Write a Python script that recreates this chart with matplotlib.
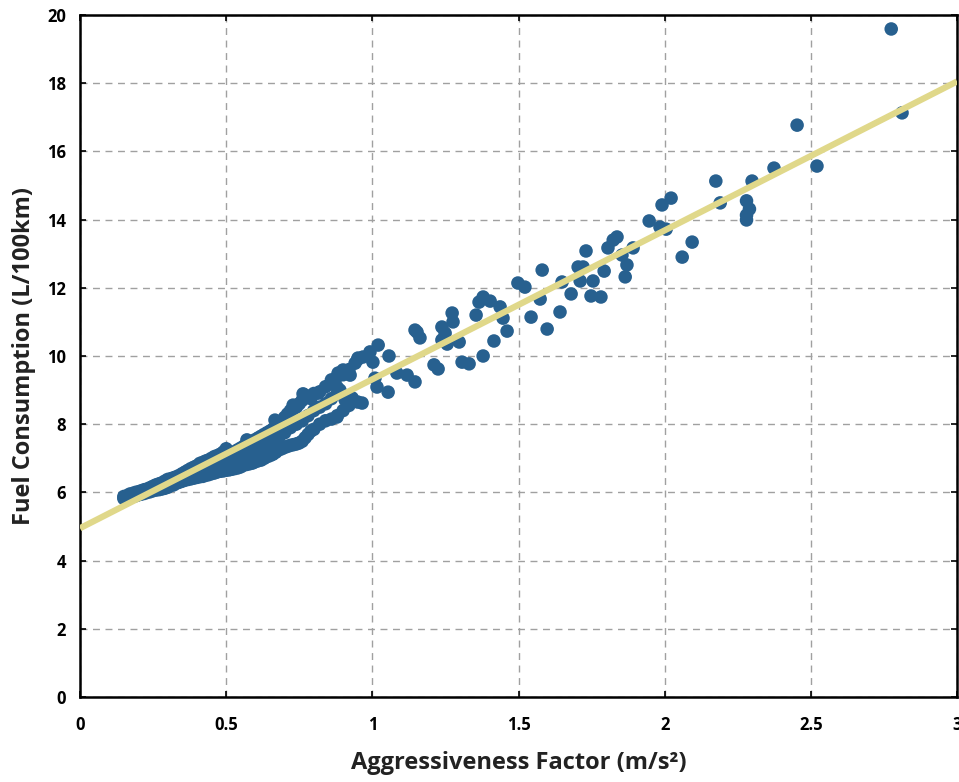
import matplotlib
matplotlib.use("Agg")
import matplotlib.pyplot as plt

dense_x = [0.15, 0.15, 0.16, 0.16, 0.17, 0.17, 0.18, 0.18, 0.19, 0.19, 0.20, 0.20,
           0.21, 0.21, 0.22, 0.22, 0.23, 0.23, 0.24, 0.24, 0.25, 0.25, 0.26, 0.26,
           0.27, 0.27, 0.28, 0.28, 0.29, 0.29, 0.30, 0.30, 0.31, 0.31, 0.32, 0.32,
           0.33, 0.33, 0.34, 0.34, 0.35, 0.35, 0.36, 0.36, 0.37, 0.37, 0.38, 0.38,
           0.39, 0.39, 0.40, 0.40, 0.40, 0.41, 0.41, 0.42, 0.42, 0.42, 0.43, 0.43,
           0.44, 0.44, 0.44, 0.45, 0.45, 0.46, 0.46, 0.46, 0.47, 0.47, 0.48, 0.48,
           0.48, 0.49, 0.49, 0.50, 0.50, 0.50, 0.51, 0.51, 0.52, 0.52, 0.52, 0.53,
           0.53, 0.54, 0.54, 0.54, 0.55, 0.55, 0.56, 0.56, 0.56, 0.57, 0.57, 0.58,
           0.58, 0.58, 0.59, 0.59, 0.60, 0.60, 0.60, 0.61, 0.61, 0.62, 0.62, 0.62,
           0.63, 0.63, 0.64, 0.64, 0.64, 0.65, 0.65, 0.66, 0.66, 0.66, 0.67, 0.67,
           0.68, 0.68, 0.68, 0.69, 0.69, 0.70, 0.70, 0.70, 0.71, 0.71, 0.72, 0.72,
           0.72, 0.73, 0.73, 0.74, 0.74, 0.74, 0.75, 0.75, 0.76, 0.76, 0.76, 0.77,
           0.77, 0.78, 0.78, 0.78, 0.79, 0.79, 0.80, 0.80, 0.80, 0.82, 0.82, 0.82,
           0.84, 0.84, 0.84, 0.86, 0.86, 0.86, 0.88, 0.88, 0.88, 0.90, 0.90, 0.92,
           0.92, 0.95, 0.95]
dense_y = [5.82, 5.88, 5.85, 5.90, 5.87, 5.95, 5.88, 5.97, 5.90, 6.00, 5.93, 6.02,
           5.95, 6.05, 5.97, 6.08, 6.00, 6.10, 6.02, 6.14, 6.05, 6.18, 6.07, 6.22,
           6.08, 6.25, 6.10, 6.28, 6.12, 6.33, 6.15, 6.38, 6.20, 6.40, 6.22, 6.43,
           6.27, 6.46, 6.30, 6.50, 6.33, 6.55, 6.36, 6.60, 6.38, 6.65, 6.40, 6.70,
           6.42, 6.74, 6.44, 6.78, 6.60, 6.46, 6.85, 6.47, 6.88, 6.68, 6.50, 6.92,
           6.52, 6.95, 6.75, 6.55, 7.00, 6.57, 7.05, 6.80, 6.60, 7.08, 6.62, 7.12,
           6.88, 6.63, 7.18, 6.65, 7.28, 6.95, 6.66, 7.10, 6.68, 7.15, 6.90, 6.70,
           7.20, 6.72, 7.25, 7.00, 6.75, 7.30, 6.80, 7.35, 7.05, 6.82, 7.42, 6.84,
           7.48, 7.15, 6.86, 7.50, 6.90, 7.55, 7.25, 6.93, 7.60, 6.95, 7.65, 7.30,
           7.00, 7.70, 7.05, 7.75, 7.40, 7.08, 7.80, 7.12, 7.85, 7.50, 7.18, 7.90,
           7.25, 7.95, 7.60, 7.28, 8.00, 7.32, 8.20, 7.75, 7.35, 8.30, 7.38, 8.40,
           7.90, 7.40, 8.45, 7.42, 8.50, 8.00, 7.45, 8.60, 7.50, 8.70, 8.10, 7.60,
           8.85, 7.70, 8.80, 8.25, 7.80, 8.75, 7.85, 8.90, 8.40, 8.00, 8.95, 8.50,
           8.10, 9.10, 8.60, 8.15, 9.30, 8.75, 8.25, 9.40, 8.90, 8.40, 9.45, 8.55,
           9.60, 8.65, 9.90]

# Scattered observations at higher aggressiveness
sparse_x = [0.763, 0.814, 0.729, 0.667, 0.571, 0.879, 0.907, 0.879, 0.883, 0.951,
            0.900, 0.924, 0.889, 0.931, 0.965, 0.941, 0.968, 0.992, 1.020, 1.057,
            1.002, 1.009, 1.016, 1.054, 1.084, 1.119, 1.146, 1.146, 1.153, 1.163,
            1.211, 1.225, 1.238, 1.249, 1.238, 1.256, 1.273, 1.276, 1.297, 1.307,
            1.331, 1.355, 1.365, 1.379, 1.403, 1.437, 1.447, 1.461, 1.416, 1.379,
            1.498, 1.522, 1.581, 1.574, 1.543, 1.598, 1.642, 1.649, 1.680, 1.704,
            1.721, 1.711, 1.731, 1.748, 1.755, 1.782, 1.793, 1.806, 1.824, 1.837,
            1.854, 1.865, 1.871, 1.892, 1.947, 1.984, 1.991, 2.005, 2.022, 2.060,
            2.094, 2.175, 2.190, 2.280, 2.290, 2.280, 2.280, 2.299, 2.374, 2.453,
            2.521, 2.775, 2.812]
sparse_y = [8.89, 8.91, 8.56, 8.12, 7.54, 8.21, 8.71, 9.09, 9.50, 9.94,
            9.59, 9.44, 9.00, 8.77, 8.62, 9.79, 9.97, 10.12, 10.32, 10.00,
            9.82, 9.35, 9.09, 8.94, 9.50, 9.44, 9.24, 10.76, 10.70, 10.53,
            9.74, 9.62, 10.85, 10.67, 10.47, 10.35, 11.26, 11.00, 10.41, 9.82,
            9.77, 11.20, 11.58, 11.73, 11.61, 11.44, 11.11, 10.73, 10.44, 10.00,
            12.14, 12.02, 12.52, 11.67, 11.14, 10.79, 11.29, 12.17, 11.82, 12.61,
            12.61, 12.20, 13.08, 11.76, 12.20, 11.73, 12.49, 13.17, 13.40, 13.49,
            12.96, 12.32, 12.67, 13.17, 13.96, 13.78, 14.43, 13.72, 14.63, 12.90,
            13.34, 15.13, 14.49, 14.55, 14.31, 14.13, 13.99, 15.13, 15.51, 16.77,
            15.57, 19.59, 17.13]

# Fitted trend line endpoints
fit_x = [0.0, 3.0]
fit_y = [4.95, 18.05]

x_ticks = [0, 0.5, 1, 1.5, 2, 2.5, 3]
x_tick_labels = ["0", "0.5", "1", "1.5", "2", "2.5", "3"]
y_ticks = [0, 2, 4, 6, 8, 10, 12, 14, 16, 18, 20]

plt.rcParams['font.family'] = ['Open Sans', 'DejaVu Sans']

fig = plt.figure(figsize=(9.59, 7.82), dpi=100)
ax = fig.add_axes([80/959, 1 - 697/782, (957 - 80)/959, (697 - 15)/782])

point_color = '#27608F'
ax.scatter(dense_x + sparse_x, dense_y + sparse_y, s=95, color=point_color,
           edgecolors='none', zorder=3)
ax.plot(fit_x, fit_y, color='#E0D88A', linewidth=4.5, zorder=4,
        solid_capstyle='butt')

ax.set_xlim(0, 3)
ax.set_ylim(0, 20)
ax.set_xticks(x_ticks)
ax.set_xticklabels(x_tick_labels)
ax.set_yticks(y_ticks)

ax.grid(True, linestyle=(0, (5, 4)), color='#A0A0A0', linewidth=1.0, zorder=0)
ax.set_axisbelow(True)

for sp in ax.spines.values():
    sp.set_linewidth(1.8)
    sp.set_color('black')

ax.tick_params(axis='both', which='major', direction='in', length=4, width=1.2,
               top=True, right=True, labelsize=12)
ax.tick_params(axis='x', pad=14)
ax.tick_params(axis='y', pad=10)
for lbl in ax.get_xticklabels() + ax.get_yticklabels():
    lbl.set_fontweight('bold')

ax.set_xlabel('Aggressiveness Factor (m/s²)', fontsize=17, fontweight='bold',
              labelpad=12, color='#222222')
ax.set_ylabel('Fuel Consumption (L/100km)', fontsize=17, fontweight='bold',
              labelpad=8, color='#222222')

fig.savefig('out.png', dpi=100)
